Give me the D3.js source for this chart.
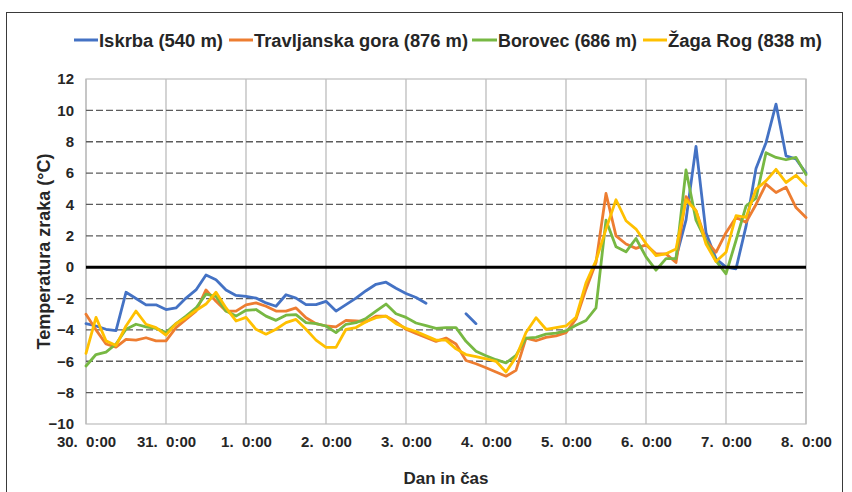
<!DOCTYPE html>
<html>
<head>
<meta charset="utf-8">
<script src="https://cdn.jsdelivr.net/npm/d3@7"></script>
<style>
  body { margin: 0; background: #fff; }
  text { font-family: "Liberation Sans", Arial, sans-serif; font-weight: bold; fill: #262626; }
</style>
</head>
<body>
<svg id="chart" width="852" height="492"></svg>
<script>
// Observation times, hours after 30. 0:00 (3-hourly)
const hours = d3.range(0, 217, 3);

// Day tick labels (every 24 h)
const dayLabels = ["30.  0:00", "31.  0:00", "1.  0:00", "2.  0:00", "3.  0:00",
                   "4.  0:00", "5.  0:00", "6.  0:00", "7.  0:00", "8.  0:00"];
const yTicks = [-10, -8, -6, -4, -2, 0, 2, 4, 6, 8, 10, 12];

// Air temperature (°C) per station
const iskrba = [
  -3.6, -3.75, -3.96, -4.05, -1.6, -2.0, -2.4, -2.4,
  -2.7, -2.6, -1.97, -1.45, -0.5, -0.8, -1.45, -1.8,
  -1.86, -1.97, -2.28, -2.49, -1.76, -1.97, -2.39, -2.39,
  -2.18, -2.8, -2.39, -1.97, -1.5, -1.09, -0.96, -1.34,
  -1.68, -1.93, -2.3, null, null, null, -2.97, -3.6,
  null, null, null, null, null, null, null, null,
  null, null, null, null, null, null, null, null,
  null, null, null, 0.6, 3.0, 7.7, 2.2, 0.53,
  0.0, -0.1, 2.6, 6.3, 7.94, 10.4, 7.1, 6.9,
  6.0
];
const travljanska = [
  -3.0, -4.0, -4.9, -5.1, -4.6, -4.65, -4.5, -4.7,
  -4.7, -3.85, -3.33, -2.8, -1.45, -2.18, -2.8, -2.8,
  -2.4, -2.28, -2.49, -2.8, -2.8, -2.6, -3.22, -3.6,
  -3.75, -3.81, -3.39, -3.43, -3.48, -3.12, -3.12, -3.48,
  -3.96, -4.23, -4.48, -4.73, -4.52, -4.9, -5.95, -6.16,
  -6.41, -6.68, -6.95, -6.58, -4.52, -4.69, -4.48, -4.38,
  -4.17, -3.3, -1.4, 0.3, 4.7, 2.0, 1.48, 1.2,
  1.42, 0.85, 0.85, 0.3, 4.5, 3.6, 1.7, 0.95,
  2.2, 3.17, 2.86, 4.0, 5.3, 4.76, 5.1, 3.8,
  3.17
];
const borovec = [
  -6.3, -5.57, -5.42, -4.9, -3.96, -3.64, -3.8, -3.9,
  -4.17, -3.6, -3.12, -2.6, -1.72, -1.86, -2.8, -3.12,
  -2.75, -2.7, -3.12, -3.39, -3.06, -3.02, -3.54, -3.6,
  -3.75, -4.17, -3.64, -3.54, -3.27, -2.8, -2.35, -2.97,
  -3.2, -3.56, -3.73, -3.9, -3.85, -3.85, -4.73, -5.36,
  -5.65, -5.9, -6.1, -5.63, -4.52, -4.48, -4.27, -4.21,
  -4.06, -3.7, -3.4, -2.6, 3.0, 1.3, 0.98, 1.83,
  0.66, -0.19, 0.55, 0.55, 6.2, 3.0, 1.7, 0.4,
  -0.42, 1.7, 3.9, 4.4, 7.3, 7.0, 6.85, 7.0,
  5.9
];
const zagaRog = [
  -5.5, -3.2, -4.7, -5.0, -3.75, -2.8, -3.64, -3.85,
  -4.33, -3.6, -3.22, -2.76, -2.35, -1.6, -2.6, -3.43,
  -3.2, -3.96, -4.27, -3.96, -3.54, -3.33, -3.96, -4.65,
  -5.11, -5.11, -3.96, -3.85, -3.48, -3.22, -3.12, -3.6,
  -3.9, -4.1, -4.38, -4.65, -4.65, -5.21, -5.57, -5.7,
  -5.84, -6.0, -6.68, -5.74, -4.17, -3.22, -3.96, -3.85,
  -3.75, -3.2, -1.0, 0.42, 2.43, 4.3, 2.96, 2.43,
  1.5, 0.74, 0.85, 1.16, 4.3, 3.6, 1.48, 0.36,
  0.95, 3.28, 3.17, 4.97, 5.5, 6.24, 5.4, 5.86,
  5.2
];

const seriesNames = ["Iskrba (540 m)", "Travljanska gora (876 m)", "Borovec (686 m)", "Žaga Rog (838 m)"];
const seriesValues = [iskrba, travljanska, borovec, zagaRog];
const seriesColors = ["#4472C4", "#ED7D31", "#77B843", "#FFC000"];

const svg = d3.select("#chart");
const plotLeft = 86, plotRight = 806, plotTop = 79, plotBottom = 424;

const x = d3.scaleLinear().domain([0, 216]).range([plotLeft, plotRight]);
const y = d3.scaleLinear().domain([-10, 12]).range([plotBottom, plotTop]);

// Outer frame
svg.append("rect")
  .attr("x", 6.5).attr("y", 12.5).attr("width", 836).attr("height", 492)
  .attr("fill", "none").attr("stroke", "#3a3a3a").attr("stroke-width", 1);

// Vertical day grid lines
const dayTicks = d3.range(0, 217, 24);
svg.append("g").selectAll("line").data(dayTicks).join("line")
  .attr("x1", d => x(d)).attr("x2", d => x(d))
  .attr("y1", plotTop).attr("y2", plotBottom)
  .attr("stroke", "#c9c9c9").attr("stroke-width", 1.6);

// Plot border
svg.append("rect")
  .attr("x", plotLeft).attr("y", plotTop).attr("width", plotRight - plotLeft).attr("height", plotBottom - plotTop)
  .attr("fill", "none").attr("stroke", "#bdbdbd").attr("stroke-width", 1.2);

// Horizontal dashed grid lines
svg.append("g").selectAll("line").data(yTicks.filter(v => v !== 0 && v !== -10 && v !== 12)).join("line")
  .attr("x1", plotLeft).attr("x2", plotRight)
  .attr("y1", d => y(d)).attr("y2", d => y(d))
  .attr("stroke", "#5c5c5c").attr("stroke-width", 1.3)
  .attr("stroke-dasharray", "7,3");

// Y axis labels
const yAxis = d3.axisLeft(y).tickValues(yTicks).tickSize(0).tickPadding(12);
const gy = svg.append("g").attr("transform", `translate(${plotLeft},0)`).call(yAxis);
gy.select(".domain").remove();
gy.selectAll("text").style("font-size", "15px").style("font-family", "'Liberation Sans', Arial, sans-serif")
  .attr("fill", "#262626");

// X axis labels
const xAxis = d3.axisBottom(x).tickValues(dayTicks).tickSize(0).tickPadding(12)
  .tickFormat((d, i) => dayLabels[i]);
const gx = svg.append("g").attr("transform", `translate(0,${plotBottom})`).call(xAxis);
gx.select(".domain").remove();
gx.selectAll("text").style("font-size", "15px").style("font-family", "'Liberation Sans', Arial, sans-serif")
  .style("white-space", "pre")
  .attr("fill", "#262626");

// Series lines
const line = d3.line()
  .defined(d => d.v !== null)
  .x(d => x(d.h)).y(d => y(d.v));
seriesValues.forEach((vals, i) => {
  svg.append("path")
    .datum(hours.map((h, k) => ({ h, v: vals[k] })))
    .attr("fill", "none")
    .attr("stroke", seriesColors[i])
    .attr("stroke-width", 2.8)
    .attr("stroke-linejoin", "round")
    .attr("stroke-linecap", "round")
    .attr("d", line);
});

// Zero line
svg.append("line")
  .attr("x1", plotLeft).attr("x2", plotRight).attr("y1", y(0)).attr("y2", y(0))
  .attr("stroke", "#000").attr("stroke-width", 3);

// Legend
const legendItems = [
  { lx: 74, tx: 99, w: 124 },
  { lx: 229, tx: 254, w: 214 },
  { lx: 472, tx: 498, w: 139 },
  { lx: 643, tx: 668, w: 154 }
];
const lg = svg.append("g");
legendItems.forEach((it, i) => {
  lg.append("line")
    .attr("x1", it.lx).attr("x2", it.tx - 1).attr("y1", 40).attr("y2", 40)
    .attr("stroke", seriesColors[i]).attr("stroke-width", 3);
  lg.append("text")
    .attr("x", it.tx).attr("y", 46.5)
    .attr("textLength", it.w).attr("lengthAdjust", "spacingAndGlyphs")
    .style("font-size", "18px")
    .text(seriesNames[i]);
});

// Axis titles
svg.append("text")
  .attr("transform", `translate(50,${(plotTop + plotBottom) / 2}) rotate(-90)`)
  .attr("text-anchor", "middle")
  .style("font-size", "18px")
  .text("Temperatura zraka (°C)");
svg.append("text")
  .attr("x", 446).attr("y", 484)
  .attr("text-anchor", "middle")
  .style("font-size", "17px")
  .text("Dan in čas");
</script>
</body>
</html>
